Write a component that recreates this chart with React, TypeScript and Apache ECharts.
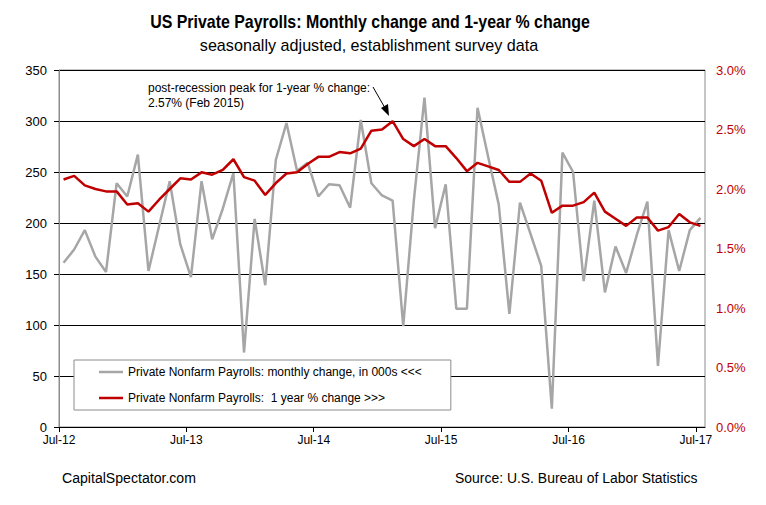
import React, { useEffect, useRef } from "react";
import * as echarts from "echarts";

const tickLabels = ["Jul-12", "Jul-13", "Jul-14", "Jul-15", "Jul-16", "Jul-17"];

// monthly change in private nonfarm payrolls (000s), Jul-12 .. Jul-17
const monthlyChange = [
  161, 174, 193, 167, 152, 239, 226, 267, 153, 197, 241, 179,
  147, 241, 184, 214, 249, 73, 204, 139, 262, 298, 251, 259,
  226, 238, 237, 215, 301, 239, 227, 222, 99, 222, 323, 195,
  238, 116, 116, 313, 265, 218, 111, 220, 189, 158, 18, 269,
  250, 143, 222, 132, 177, 151, 188, 221, 60, 193, 153, 193,
  205,
];

// 1-year % change, Jul-12 .. Jul-17
const yearlyPct = [
  2.08, 2.11, 2.03, 2.0, 1.98, 1.98, 1.87, 1.88, 1.81, 1.91, 2.0, 2.09,
  2.08, 2.14, 2.12, 2.16, 2.25, 2.1, 2.07, 1.95, 2.05, 2.13, 2.14, 2.21,
  2.27, 2.27, 2.31, 2.3, 2.34, 2.49, 2.5, 2.57, 2.42, 2.36, 2.42, 2.36,
  2.36, 2.26, 2.15, 2.22, 2.19, 2.16, 2.06, 2.06, 2.13, 2.07, 1.8, 1.86,
  1.86, 1.89, 1.97, 1.81, 1.75, 1.69, 1.76, 1.76, 1.65, 1.68, 1.79, 1.72,
  1.69,
];

const seriesNames = [
  "Private Nonfarm Payrolls: monthly change, in 000s <<<",
  "Private Nonfarm Payrolls:  1 year % change >>>",
];

const SANS = "'Liberation Sans', Arial, sans-serif";
const OFFSET = 0.43; // points plotted mid-month
const X_MAX = 60.86;

export default function App() {
  const ref = useRef<HTMLDivElement>(null);
  useEffect(() => {
    if (!ref.current) return;
    const chart = echarts.init(ref.current, undefined, { renderer: "svg" });
    const greyData = monthlyChange.map((v, i) => [i + OFFSET, v]);
    const redData = yearlyPct.map((v, i) => [i + OFFSET, v]);
    const tickVals = tickLabels.map((_, i) => i * 12);
    chart.setOption({
      animation: false,
      backgroundColor: "#ffffff",
      grid: {
        left: 59,
        right: 61,
        top: 70,
        bottom: 78,
        show: true,
        borderColor: "#8c8c8c",
        borderWidth: 1,
        backgroundColor: "transparent",
      },
      legend: {
        orient: "vertical",
        left: 74,
        top: 360,
        padding: [6, 29, 6, 25],
        itemGap: 14,
        itemWidth: 24,
        itemHeight: 14,
        backgroundColor: "#ffffff",
        borderColor: "#8c8c8c",
        borderWidth: 1,
        borderRadius: 0,
        textStyle: { fontFamily: SANS, fontSize: 12, color: "#000" },
        data: seriesNames.map((n) => ({ name: n, icon: "path://M0,0L24,0L24,2.5L0,2.5Z" })),
        itemStyle: { borderWidth: 0 },
      },
      xAxis: {
        type: "value",
        min: 0,
        max: X_MAX,
        axisLine: { show: true, lineStyle: { color: "#000", width: 1 } },
        axisTick: { show: true, length: 5, customValues: tickVals, lineStyle: { color: "#000" } },
        axisLabel: {
          customValues: tickVals,
          formatter: (v: number) => tickLabels[Math.round(v / 12)] ?? "",
          fontFamily: SANS,
          fontSize: 12,
          color: "#000",
          margin: 7,
        },
        splitLine: { show: false },
      },
      yAxis: [
        {
          type: "value",
          min: 0,
          max: 350,
          interval: 50,
          position: "left",
          axisLine: { show: true, lineStyle: { color: "#8c8c8c" } },
          axisTick: { show: true, length: 5, lineStyle: { color: "#000" } },
          axisLabel: { fontFamily: SANS, fontSize: 13, color: "#000", margin: 12 },
          splitLine: { show: true, lineStyle: { color: "#000", width: 1 } },
        },
        {
          type: "value",
          min: 0,
          max: 3,
          interval: 0.5,
          position: "right",
          axisLine: { show: false },
          axisTick: { show: false },
          axisLabel: {
            formatter: (v: number) => v.toFixed(1) + "%",
            fontFamily: SANS,
            fontSize: 13,
            color: "#c00000",
            margin: 11,
          },
          splitLine: { show: false },
        },
      ],
      series: [
        {
          name: seriesNames[0],
          type: "line",
          yAxisIndex: 0,
          data: greyData,
          symbol: "none",
          lineStyle: { color: "#a6a6a6", width: 2.5 },
          itemStyle: { color: "#a6a6a6" },
          z: 2,
        },
        {
          name: seriesNames[1],
          type: "line",
          yAxisIndex: 1,
          data: redData,
          symbol: "none",
          lineStyle: { color: "#c00000", width: 2.5 },
          itemStyle: { color: "#c00000" },
          z: 3,
        },
      ],
      graphic: [
        {
          type: "text",
          x: 370,
          y: 22,
          scaleX: 0.885,
          style: {
            text: "US Private Payrolls: Monthly change and 1-year % change",
            font: `bold 18px ${SANS}`,
            fill: "#000",
            align: "center",
            verticalAlign: "middle",
          },
        },
        {
          type: "text",
          x: 369,
          y: 45,
          scaleX: 0.95,
          style: {
            text: "seasonally adjusted, establishment survey data",
            font: `17px ${SANS}`,
            fill: "#000",
            align: "center",
            verticalAlign: "middle",
          },
        },
        {
          type: "text",
          x: 148,
          y: 88,
          style: {
            text: "post-recession peak for 1-year % change:",
            font: `12px ${SANS}`,
            fill: "#000",
            verticalAlign: "middle",
          },
        },
        {
          type: "text",
          x: 148,
          y: 103,
          style: {
            text: "2.57% (Feb 2015)",
            font: `12px ${SANS}`,
            fill: "#000",
            verticalAlign: "middle",
          },
        },
        {
          type: "line",
          shape: { x1: 373, y1: 87, x2: 385, y2: 108 },
          style: { stroke: "#000", lineWidth: 1 },
        },
        {
          type: "polygon",
          shape: { points: [[389, 116], [381, 108], [388, 104]] },
          style: { fill: "#000" },
        },
        {
          type: "text",
          x: 62,
          y: 478,
          scaleX: 0.94,
          style: {
            text: "CapitalSpectator.com",
            font: `15px ${SANS}`,
            fill: "#000",
            verticalAlign: "middle",
          },
        },
        {
          type: "text",
          x: 455,
          y: 478,
          scaleX: 0.93,
          style: {
            text: "Source: U.S. Bureau of Labor Statistics",
            font: `15px ${SANS}`,
            fill: "#000",
            verticalAlign: "middle",
          },
        },
      ],
    });
    return () => chart.dispose();
  }, []);
  return (
    <div
      ref={ref}
      style={{ position: "fixed", left: 0, top: 0, width: 766, height: 505, background: "#fff" }}
    />
  );
}
